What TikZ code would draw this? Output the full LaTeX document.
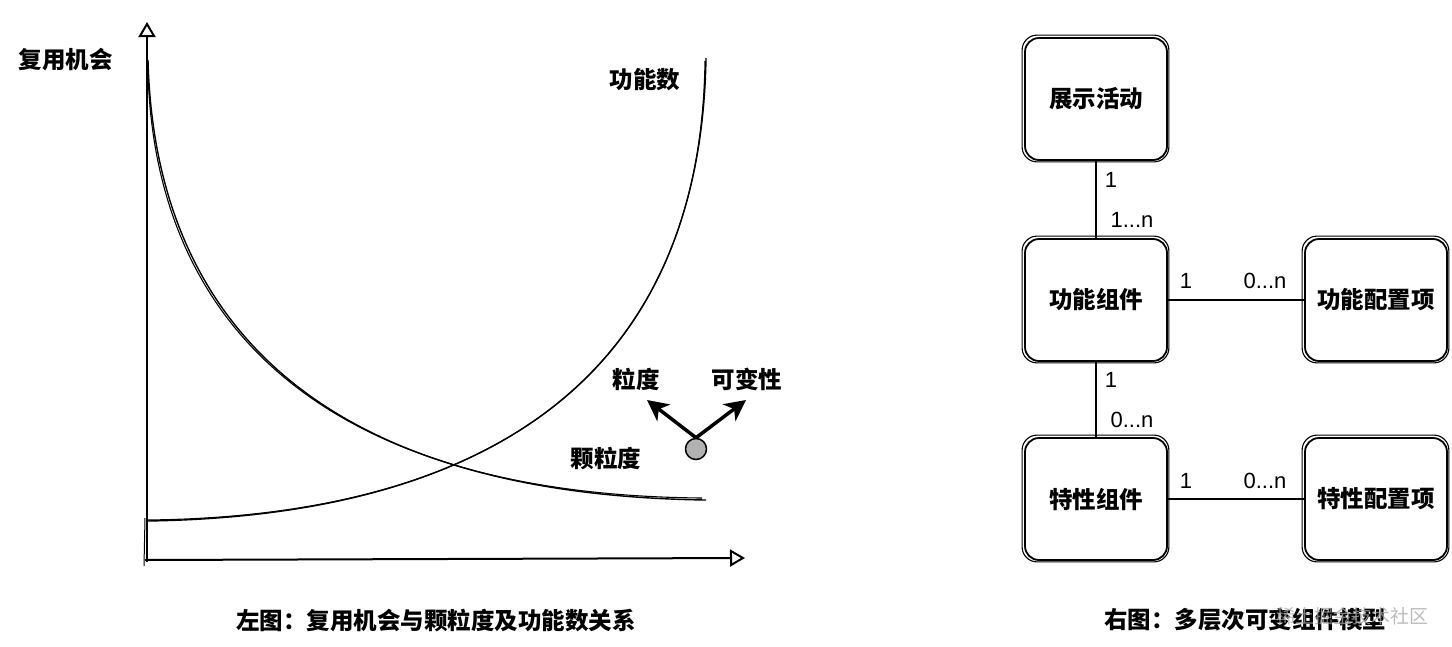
\documentclass[tikz,border=0pt]{standalone}
\usepackage{fontspec}
\setmainfont{Liberation Sans}
\newfontfamily\cjk{Noto Sans CJK SC}
\usetikzlibrary{arrows.meta}
\tikzset{
  cjklabel/.style={font={\cjk\bfseries\fontsize{23.5}{28}\selectfont}, inner sep=0pt},
  numlabel/.style={font={\fontsize{22}{26}\selectfont}, inner sep=0pt},
  wmlabel/.style={font={\cjk\fontsize{19}{22}\selectfont}, inner sep=0pt, text=gray!70, opacity=0.75},
  axisline/.style={line width=2pt, -{Triangle[open, length=15pt, width=17pt, line width=2pt]}},
  curvemain/.style={line width=1.4pt},
  curvesketch/.style={line width=1.1pt},
  pointer/.style={line width=3.5pt, -{Stealth[length=21pt, width=21pt, inset=6pt]}},
  dot/.style={circle, draw, line width=1.5pt, fill=black!30, minimum size=21pt, inner sep=0pt},
  box/.style={draw, line width=1.8pt, rounded corners=14pt, minimum width=142pt, minimum height=122pt, inner sep=0pt,
              font={\cjk\bfseries\fontsize{23.5}{28}\selectfont}},
  boxsketch/.style={line width=1.1pt, rounded corners=15pt},
  conn/.style={line width=1.5pt}
}
\begin{document}
\begin{tikzpicture}[x=1pt, y=-1pt]
\useasboundingbox (0,0) rectangle (1452,646);
\fill[white] (0,0) rectangle (1452,646);

% ---------- left chart ----------
\coordinate (ybot) at (147,562);
\coordinate (ytop) at (147,22);
\coordinate (xleft) at (145,560);
\coordinate (xright) at (745,558);
\draw[axisline] (ybot) -- (ytop);
\draw[axisline] (xleft) -- (xright);
\coordinate (ys1) at (145,518);
\coordinate (ys2) at (144,566);
\draw[line width=1pt] (ys1) -- (ys2);

% decreasing curve (granularity)
\coordinate (g0) at (148,60);
\coordinate (g1) at (155,330);
\coordinate (g2) at (330,495);
\coordinate (g3) at (706,500);
\draw[curvemain] (g0) .. controls (g1) and (g2) .. (g3);
\begin{scope}[shift={(4,-3)}]
\draw[curvesketch] ([yshift=-12pt]g0) .. controls (g1) and (g2) .. ([xshift=-4pt, yshift=2pt]g3);
\end{scope}

% increasing curve (feature count)
\coordinate (f0) at (147,521);
\coordinate (f1) at (440,517);
\coordinate (f2) at (700,412);
\coordinate (f3) at (706,58);
\draw[curvemain] (f0) .. controls (f1) and (f2) .. (f3);
\begin{scope}[shift={(4,3)}]
\draw[curvesketch] ([yshift=1pt]f0) .. controls (f1) and (f2) .. ([xshift=-1pt, yshift=-3pt]f3);
\end{scope}

\node[cjklabel] (yl) at (66,60) {复用机会};
\node[cjklabel] (fn) at (645,80) {功能数};
\node[cjklabel] (gr) at (606,459) {颗粒度};
\node[cjklabel] (ld) at (636,379) {粒度};
\node[cjklabel] (kb) at (747,379) {可变性};

\node[dot] (c) at (696,449) {};
\coordinate (tipL) at (647,400);
\coordinate (tipR) at (746,400);
\draw[pointer] (c.north) -- (tipL);
\draw[pointer] (c.north) -- (tipR);

\node[cjklabel] (capL) at (436,621) {左图：复用机会与颗粒度及功能数关系};

% ---------- right model ----------
\node[box] (zs) at (1096,99) {展示活动};
\node[box] (gn) at (1096,300) {功能组件};
\node[box] (gp) at (1376,300) {功能配置项};
\node[box] (tx) at (1096,499) {特性组件};
\node[box] (tp) at (1376,499) {特性配置项};

\foreach \b in {zs,gn,gp,tx,tp}{
  \draw[boxsketch] ([shift={(-2,1)}]\b.south west) rectangle ([shift={(1,-2)}]\b.north east);
}

\draw[conn] (zs) -- (gn);
\draw[conn] (gn) -- (tx);
\draw[conn] (gn) -- (gp);
\draw[conn] (tx) -- (tp);

\node[numlabel] (a1) at (1111,180) {1};
\node[numlabel] (a2) at (1132,220) {1...n};
\node[numlabel] (b1) at (1111,380) {1};
\node[numlabel] (b2) at (1132,420) {0...n};
\node[numlabel] (c1) at (1186,281) {1};
\node[numlabel] (c2) at (1265,281) {0...n};
\node[numlabel] (d1) at (1186,481) {1};
\node[numlabel] (d2) at (1265,481) {0...n};

\node[cjklabel] (capR) at (1245,620) {右图：多层次可变组件模型};
\node[wmlabel] (wm) at (1352,616) {稀土掘金技术社区};
\end{tikzpicture}
\end{document}
